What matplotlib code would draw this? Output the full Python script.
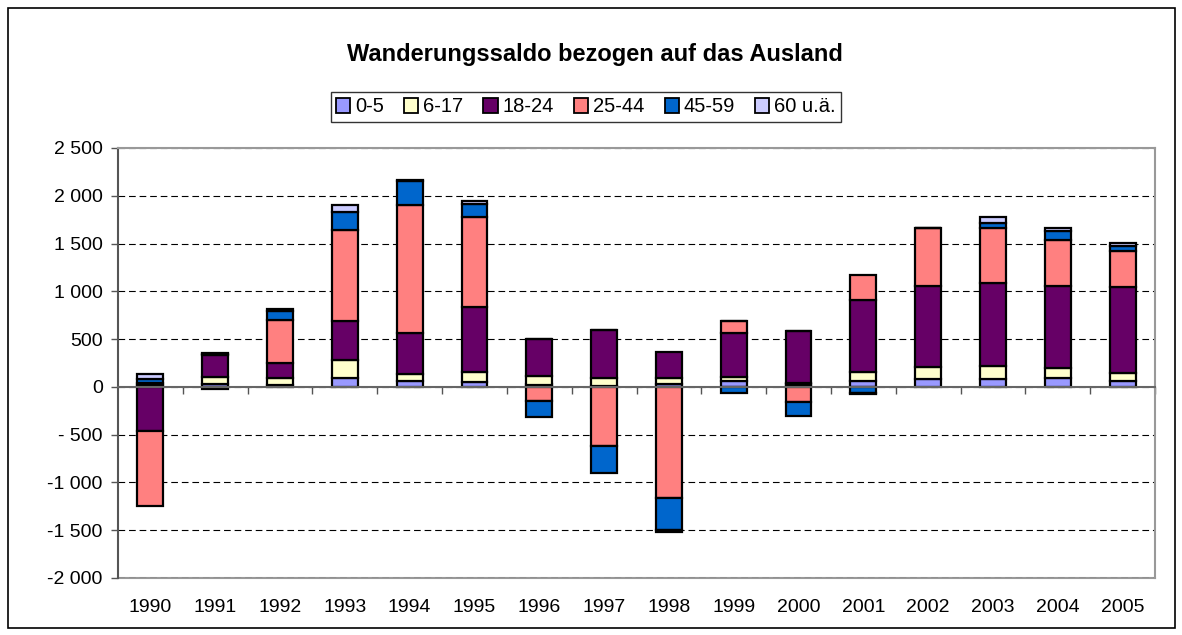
import numpy as np
import matplotlib.pyplot as plt
from matplotlib.patches import Patch, Rectangle

plt.rcParams['font.family'] = ['Liberation Sans', 'DejaVu Sans']

# Net migration with foreign countries, by age group
years = ['1990', '1991', '1992', '1993', '1994', '1995', '1996', '1997',
         '1998', '1999', '2000', '2001', '2002', '2003', '2004', '2005']
age_groups = ['0-5', '6-17', '18-24', '25-44', '45-59', '60 u.ä.']

saldo_0_5 = [15, 30, 15, 90, 65, 55, 25, 14, 30, 65, 25, 66, 84, 84, 98, 60]
saldo_6_17 = [25, 70, 75, 192, 70, 105, 85, 75, 62, 35, 15, 87, 128, 136, 101, 83]
saldo_18_24 = [-460, 230, 165, 405, 430, 673, 390, 511, 270, 464, 549, 760, 844, 865, 861, 906]
saldo_25_44 = [-785, 15, 450, 955, 1340, 950, -150, -615, -1165, 130, -160, 258, 607, 578, 478, 377]
saldo_45_59 = [45, -20, 90, 185, 250, 130, -160, -285, -328, -60, -145, -65, 0, 55, 91, 45]
saldo_60 = [45, 5, 20, 75, 10, 35, 0, 0, -30, 0, 0, -5, 0, 60, 38, 35]

ytick_values = [-2000, -1500, -1000, -500, 0, 500, 1000, 1500, 2000, 2500]
ytick_labels = ['-2 000', '-1 500', '-1 000', '- 500', '0', '500',
                '1 000', '1 500', '2 000', '2 500']

colors = ['#9999FF', '#FFFFCC', '#660066', '#FF8080', '#0066CC', '#CCCCFF']
series = [saldo_0_5, saldo_6_17, saldo_18_24, saldo_25_44, saldo_45_59, saldo_60]

#----------------------------------------
fig = plt.figure(figsize=(11.82, 6.35), dpi=100)
ax = fig.add_axes([118/1182, 57/635, (1155-118)/1182, (578-148)/635])

x = np.arange(len(years))
pos_base = np.zeros(len(years))
neg_base = np.zeros(len(years))
for vals, col in zip(series, colors):
    v = np.array(vals, dtype=float)
    bottom = np.where(v >= 0, pos_base, neg_base)
    ax.bar(x, v, width=0.4, bottom=bottom, color=col, edgecolor='black',
           linewidth=1.6, zorder=3)
    pos_base += np.where(v >= 0, v, 0)
    neg_base += np.where(v < 0, v, 0)

ax.set_xlim(-0.5, len(years) - 0.5)
ax.set_ylim(-2000, 2500)

# dashed gridlines
ax.set_yticks(ytick_values, labels=ytick_labels, fontsize=14)
ax.yaxis.grid(True, linestyle=(0, (6, 3.5)), color='black', linewidth=0.8, zorder=1)
ax.tick_params(axis='y', direction='out', length=5, width=1, color='#555555', pad=6)

# x axis line at zero with ticks between categories
ax.spines['bottom'].set_position(('data', 0))
ax.spines['bottom'].set_color('#666666')
ax.spines['bottom'].set_linewidth(1.5)
ax.spines['bottom'].set_zorder(4)
ax.set_xticks(x + 0.5)
ax.set_xticklabels([])
ax.tick_params(axis='x', direction='out', length=5, width=1, color='#555555')

ax.spines['left'].set_color('#555555')
ax.spines['left'].set_linewidth(1.5)
for side in ['top', 'right']:
    ax.spines[side].set_color('#999999')
    ax.spines[side].set_linewidth(1.5)

# year labels under the plot area
sec = ax.secondary_xaxis('bottom')
sec.set_xticks(x, labels=years, fontsize=14)
sec.tick_params(length=0, pad=15)
sec.spines['bottom'].set_color('#999999')
sec.spines['bottom'].set_linewidth(1.5)

#----------------------------------------
fig.text(595/1182, 1 - 55/635, 'Wanderungssaldo bezogen auf das Ausland',
         ha='center', va='center', fontsize=17, fontweight='bold')

handles = [Patch(facecolor=c, edgecolor='black', linewidth=1.3) for c in colors]
leg = fig.legend(handles, age_groups, loc='center', ncol=6,
                 bbox_to_anchor=(586/1182, 1 - 107/635), fontsize=14.5,
                 frameon=True, fancybox=False, handlelength=0.7, handleheight=0.7,
                 handletextpad=0.25, columnspacing=1.0, borderpad=0.25,
                 borderaxespad=0)
leg.get_frame().set_edgecolor('black')
leg.get_frame().set_linewidth(1)

fig.patches.append(Rectangle((8/1182, 7/635), (1175-8)/1182, (628-8)/635,
                             transform=fig.transFigure, fill=False,
                             edgecolor='black', linewidth=1.2))

fig.savefig('out.png', dpi=100)
